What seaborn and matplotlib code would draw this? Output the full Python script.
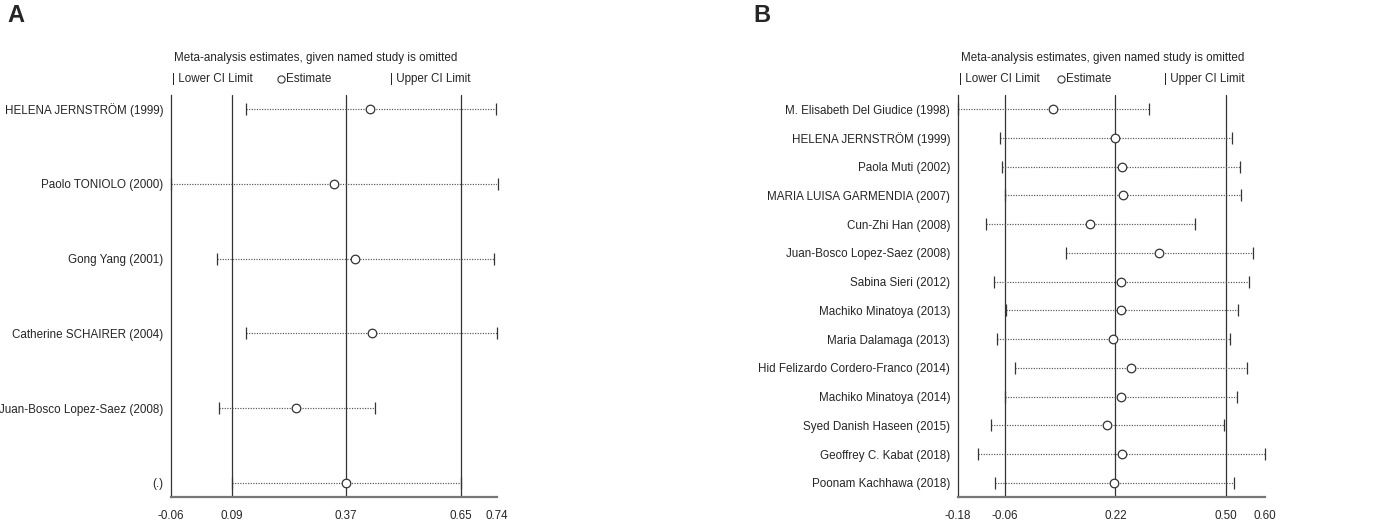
import numpy as np
import pandas as pd
import matplotlib
matplotlib.use('Agg')
import matplotlib.pyplot as plt
import seaborn as sns
from matplotlib import font_manager

# panel A
studies_a = ['HELENA JERNSTRÖM (1999)', 'Paolo TONIOLO (2000)', 'Gong Yang (2001)',
             'Catherine SCHAIRER (2004)', 'Juan-Bosco Lopez-Saez (2008)', '(.)']
est_a = [0.429, 0.339, 0.392, 0.432, 0.248, 0.37]
lo_a = [0.124, -0.06, 0.054, 0.125, 0.058, 0.09]
hi_a = [0.737, 0.742, 0.733, 0.74, 0.44, 0.65]
overall_a = [0.09, 0.37, 0.65]
ticks_a = [-0.06, 0.09, 0.37, 0.65, 0.74]

# panel B
studies_b = ['M. Elisabeth Del Giudice (1998)', 'HELENA JERNSTRÖM (1999)', 'Paola Muti (2002)',
             'MARIA LUISA GARMENDIA (2007)', 'Cun-Zhi Han (2008)', 'Juan-Bosco Lopez-Saez (2008)',
             'Sabina Sieri (2012)', 'Machiko Minatoya (2013)', 'Maria Dalamaga (2013)',
             'Hid Felizardo Cordero-Franco (2014)', 'Machiko Minatoya (2014)',
             'Syed Danish Haseen (2015)', 'Geoffrey C. Kabat (2018)', 'Poonam Kachhawa (2018)']
est_b = [0.061, 0.220, 0.236, 0.239, 0.156, 0.330, 0.234, 0.235, 0.215, 0.260, 0.234, 0.198, 0.236, 0.217]
lo_b = [-0.18, -0.074, -0.068, -0.059, -0.109, 0.094, -0.089, -0.058, -0.080, -0.035, -0.059, -0.096, -0.128, -0.086]
hi_b = [0.304, 0.515, 0.536, 0.538, 0.423, 0.568, 0.558, 0.530, 0.510, 0.554, 0.527, 0.496, 0.600, 0.520]
overall_b = [-0.06, 0.22, 0.50]
ticks_b = [-0.18, -0.06, 0.22, 0.50, 0.60]

sns.set_style('white')
names = {f.name for f in font_manager.fontManager.ttflist}
if 'Liberation Sans Narrow' in names:
    base_font, fs = 'Liberation Sans Narrow', 10.0
else:
    base_font, fs = 'Liberation Sans', 8.35
plt.rcParams['font.family'] = [base_font, 'DejaVu Sans']

line_col = '#333333'
dot_col = '#555555'


def plotInfluence(ax, studies, est, lo, hi, overall, ticks):
    df = pd.DataFrame({'study': studies, 'est': est, 'lo': lo, 'hi': hi})
    df['pos'] = np.arange(len(df))
    for v in overall:
        ax.axvline(v, color=line_col, lw=0.9, zorder=1)
    ax.hlines(df['pos'], df['lo'], df['hi'], colors=dot_col, linestyles=(0, (1, 1.2)), lw=0.85, zorder=2)
    sns.scatterplot(data=df, x='lo', y='pos', marker='|', s=64, color=line_col, linewidth=0.9, ax=ax,
                    zorder=3, clip_on=False)
    sns.scatterplot(data=df, x='hi', y='pos', marker='|', s=64, color=line_col, linewidth=0.9, ax=ax,
                    zorder=3, clip_on=False)
    sns.scatterplot(data=df, x='est', y='pos', marker='o', s=38, facecolor='white', edgecolor=line_col,
                    linewidth=0.9, ax=ax, zorder=4)
    n = len(df)
    # keep about 14 px between the outer rows and the plot edges
    rows_px = 402.0 - 28.0
    m = 14.0 / (rows_px / (n - 1))
    ax.set_ylim(n - 1 + m, -m)
    ax.set_xlim(ticks[0], ticks[-1])
    ax.set_xticks(ticks)
    ax.set_xticklabels(['%.2f' % t for t in ticks], fontsize=fs)
    ax.set_yticks(df['pos'])
    ax.set_yticklabels(df['study'], fontsize=fs)
    ax.set_xlabel('')
    ax.set_ylabel('')
    ax.tick_params(axis='y', length=0, pad=5.5)
    ax.tick_params(axis='x', length=6.5, width=0.9, color=line_col, pad=3)
    ax.spines['top'].set_visible(False)
    ax.spines['right'].set_visible(False)
    ax.spines['left'].set_color(line_col)
    ax.spines['left'].set_linewidth(0.9)
    ax.spines['bottom'].set_color('#777777')
    ax.spines['bottom'].set_linewidth(1.6)
    ax.text(0.01, 1.092, 'Meta-analysis estimates, given named study is omitted',
            transform=ax.transAxes, fontsize=fs, va='center', ha='left')
    ax.text(0.005, 1.040, '| Lower CI Limit', transform=ax.transAxes, fontsize=fs, va='center', ha='left')
    ax.plot([0.337], [1.040], marker='o', ms=5.2, mfc='none', mec=line_col, mew=0.8,
            transform=ax.transAxes, clip_on=False)
    ax.text(0.352, 1.040, 'Estimate', transform=ax.transAxes, fontsize=fs, va='center', ha='left')
    ax.text(0.67, 1.040, '| Upper CI Limit', transform=ax.transAxes, fontsize=fs, va='center', ha='left')


fig = plt.figure(figsize=(14, 5.22), dpi=100)
ax1 = fig.add_axes([170.7 / 1400, 1 - 497 / 522, (497.3 - 170.7) / 1400, 402 / 522])
ax2 = fig.add_axes([957.7 / 1400, 1 - 497 / 522, (1265.3 - 957.7) / 1400, 402 / 522])
plotInfluence(ax1, studies_a, est_a, lo_a, hi_a, overall_a, ticks_a)
plotInfluence(ax2, studies_b, est_b, lo_b, hi_b, overall_b, ticks_b)
fig.text(7 / 1400, 1 - 15.5 / 522, 'A', fontsize=17, fontweight='bold', family='Liberation Sans', va='center')
fig.text(753 / 1400, 1 - 15.5 / 522, 'B', fontsize=17, fontweight='bold', family='Liberation Sans', va='center')
plt.savefig('out.png', dpi=100)
